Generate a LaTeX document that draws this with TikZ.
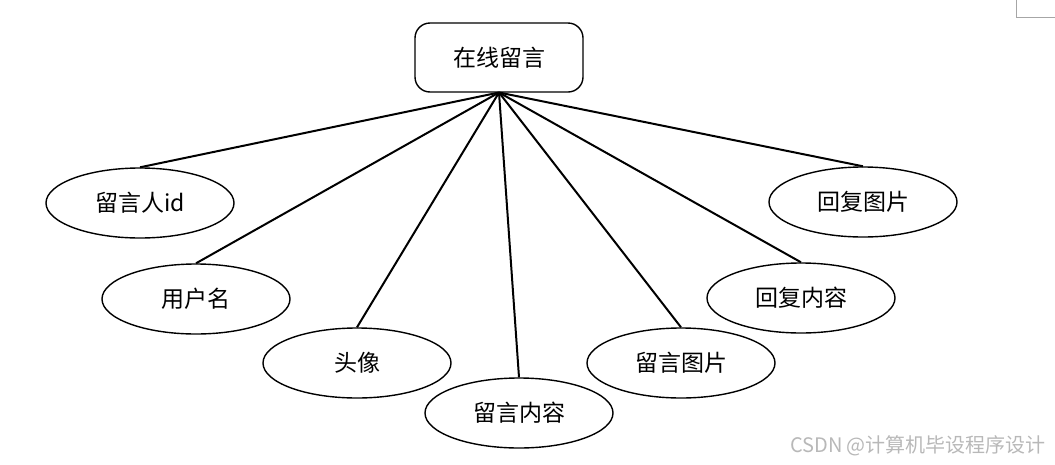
\documentclass[tikz,border=0pt]{standalone}
\usepackage{fontspec}
\newfontfamily\cjk{Noto Sans CJK SC}
\usetikzlibrary{shapes.geometric}
\begin{document}
\begin{tikzpicture}[x=1pt,y=-1pt,
  attr/.style={draw=black,line width=1.4pt,ellipse,minimum width=188pt,minimum height=70pt,inner sep=0pt,font=\cjk\fontsize{23}{26}\selectfont},
  entity/.style={draw=black,line width=1.4pt,rounded corners=15pt,minimum width=168pt,minimum height=69pt,inner sep=0pt,font=\cjk\fontsize{23}{26}\selectfont},
  link/.style={line width=2pt}]
\useasboundingbox (0,0) rectangle (1055,464);
\node[entity] (e) at (499,57.5) {在线留言};
\coordinate (apex) at (499,92.5);
\node[attr] (a1) at (140,203) {留言人id};
\node[attr] (a2) at (196,299) {用户名};
\node[attr] (a3) at (357,363) {头像};
\node[attr] (a4) at (519,413) {留言内容};
\node[attr] (a5) at (681,363) {留言图片};
\node[attr] (a6) at (801,298) {回复内容};
\node[attr] (a7) at (863,202) {回复图片};
\foreach \n in {a1,a2,a3,a4,a5,a6,a7}{\draw[link] (apex) -- (\n.north);}
\draw[gray!70,line width=0.8pt] (1016,0) -- (1016,17) -- (1055,17);
\node[font=\cjk\fontsize{20}{23}\selectfont,text=black!28,inner sep=0pt] (wm) at (918,446) {CSDN @计算机毕设程序设计};
\end{tikzpicture}
\end{document}
